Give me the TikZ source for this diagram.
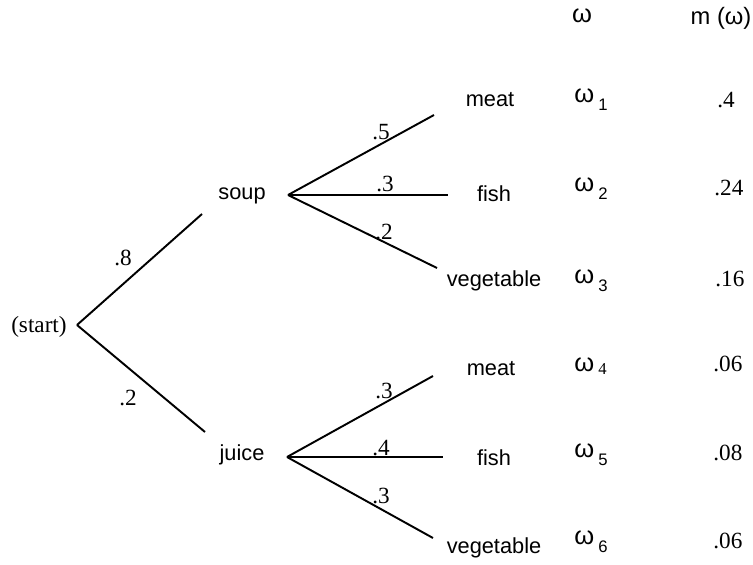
\documentclass[tikz,border=0pt]{standalone}
\usepackage{fontspec}
\setmainfont{Liberation Serif}
\setsansfont{Liberation Sans}
\usetikzlibrary{positioning}

\begin{document}
\begin{tikzpicture}[x=0.02cm,y=-0.02cm,
  item/.style={font=\sffamily\fontsize{12.4}{14}\selectfont,inner sep=0pt},
  prob/.style={font=\fontsize{13.2}{15}\selectfont,inner sep=0pt},
  omg/.style={font=\sffamily\fontsize{14.5}{16}\selectfont,inner sep=0pt,anchor=west},
  branch/.style={line width=1.1pt}]
  \newcommand{\osub}[2][-4.5pt]{\,\raisebox{#1}{\fontsize{9.5}{10}\selectfont #2}}
  \useasboundingbox (0,0) rectangle (753,564);
  % branch points and free ends
  \coordinate (root) at (77,325);
  \coordinate (soupin) at (202,214);
  \coordinate (juicein) at (205,432);
  \coordinate (soupout) at (288,195);
  \coordinate (juiceout) at (287,457);
  \coordinate (s1) at (434,115);
  \coordinate (s2) at (448,195);
  \coordinate (s3) at (437,268);
  \coordinate (j1) at (433,376);
  \coordinate (j2) at (443,457);
  \coordinate (j3) at (433,538);
  % tree
  \node[prob,anchor=east] (start) at (67,327) {(start)};
  \node[item] (soup) at (242,196) {soup};
  \node[item] (juice) at (242,455) {juice};
  \draw[branch] (root) -- (soupin);
  \draw[branch] (root) -- (juicein);
  \foreach \e in {s1,s2,s3} \draw[branch] (soupout) -- (\e);
  \foreach \e in {j1,j2,j3} \draw[branch] (juiceout) -- (\e);
  \node[prob] (p8) at (123,258) {.8};
  \node[prob] (p2) at (128,398) {.2};
  \node[prob] (ps1) at (381,132) {.5};
  \node[prob] (ps2) at (385,184) {.3};
  \node[prob] (ps3) at (384,232) {.2};
  \node[prob] (pj1) at (384,391) {.3};
  \node[prob] (pj2) at (381,448) {.4};
  \node[prob] (pj3) at (381,496) {.3};
  % outcomes
  \node[item] (meat1) at (490,100) {meat};
  \node[item] (fish1) at (494,194) {fish};
  \node[item] (veg1) at (494,281) {vegetable};
  \node[item] (meat2) at (491,369) {meat};
  \node[item] (fish2) at (494,458) {fish};
  \node[item] (veg2) at (494,548) {vegetable};
  % table
  \node[omg,anchor=center] (hw) at (582,16) {ω};
  \node[item,font=\sffamily\fontsize{13.5}{15}\selectfont] (hm) at (721,18) {m (ω)};
  \node[omg] (w1) at (574,100) {ω\osub{1}};
  \node[omg] (w2) at (574,189) {ω\osub{2}};
  \node[omg] (w3) at (574,281) {ω\osub{3}};
  \node[omg] (w4) at (574,366) {ω\osub[-1.5pt]{\rmfamily 4}};
  \node[omg] (w5) at (574,455) {ω\osub{5}};
  \node[omg] (w6) at (574,542) {ω\osub{6}};
  \node[prob,anchor=west] (m1) at (717,100) {.4};
  \node[prob,anchor=west] (m2) at (714,188) {.24};
  \node[prob,anchor=west] (m3) at (715,279) {.16};
  \node[prob,anchor=west] (m4) at (713,364) {.06};
  \node[prob,anchor=west] (m5) at (713,453) {.08};
  \node[prob,anchor=west] (m6) at (713,541) {.06};
\end{tikzpicture}
\end{document}
